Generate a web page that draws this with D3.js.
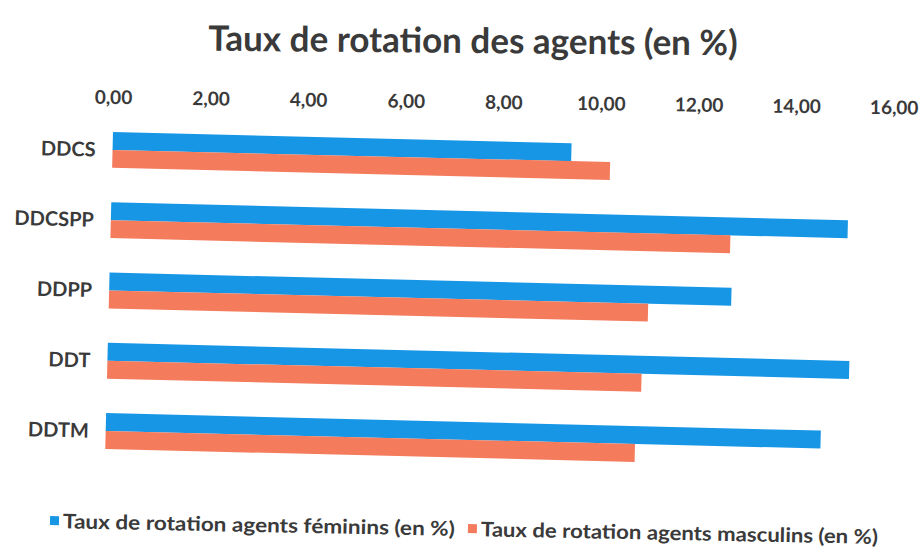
<!DOCTYPE html>
<html>
<head>
<meta charset="utf-8">
<script src="https://cdn.jsdelivr.net/npm/d3@7"></script>
<style>
  body { margin: 0; background: #fff; }
  text { font-family: Lato, 'Open Sans', sans-serif; fill: #3a3a3a; }
</style>
</head>
<body>
<div id="app"></div>
<script>
// data
const categories = ['DDCS', 'DDCSPP', 'DDPP', 'DDT', 'DDTM'];
const seriesNames = [
  'Taux de rotation agents féminins (en %)',
  'Taux de rotation agents masculins (en %)',
];
const feminins = [9.4, 15.1, 12.75, 15.2, 14.65];
const masculins = [10.2, 12.7, 11.05, 10.95, 10.85];
const tickValues = [0, 2, 4, 6, 8, 10, 12, 14, 16];
const colors = ['#1896e6', '#f47b5c'];

const data = categories.map((c, i) => ({
  category: c,
  values: [feminins[i], masculins[i]],
}));

// canvas
const width = 923;
const height = 549;
const origin = { x: 113, y: 132 };
// the source picture is a slightly skewed scan
const tilt = 1.4;

const svg = d3
  .select('#app')
  .append('svg')
  .attr('width', width)
  .attr('height', height);

svg.append('rect').attr('width', width).attr('height', height).attr('fill', 'white');

// scales
const xScale = d3.scaleLinear().domain([0, 16]).range([origin.x, origin.x + 16 * 48.8]);
const yScale = d3
  .scaleBand()
  .domain(categories)
  .range([origin.y, origin.y + 5 * 70.3 - 0.49 * 70.3])
  .paddingInner(0.49)
  .paddingOuter(0);
const seriesScale = d3
  .scaleBand()
  .domain([0, 1])
  .range([0, yScale.bandwidth()]);

// title
svg
  .append('text')
  .attr('x', 473)
  .attr('y', 53)
  .attr('text-anchor', 'middle')
  .attr('transform', 'rotate(0.5, 473, 42)')
  .style('font-size', '35px')
  .style('font-weight', 700)
  .text('Taux de rotation des agents (en %)');

// axis
const formatTick = (d) => d3.format('.2f')(d).replace('.', ',');
const xAxis = svg
  .append('g')
  .attr('transform', `rotate(0.75, ${origin.x}, 96) translate(0, 104)`)
  .call(d3.axisTop(xScale).tickValues(tickValues).tickFormat(formatTick).tickSize(0).tickPadding(0));
xAxis.select('.domain').remove();
xAxis
  .selectAll('text')
  .style('font-size', '19px')
  .style('font-weight', 700)
  .attr('fill', '#3a3a3a');

// bars
const plot = svg
  .append('g')
  .attr('transform', `rotate(${tilt}, ${origin.x}, ${origin.y})`);

const rows = plot
  .selectAll('.row')
  .data(data)
  .enter()
  .append('g')
  .attr('class', 'row')
  .attr('transform', (d) => `translate(0, ${yScale(d.category)})`);

rows
  .selectAll('rect')
  .data((d) => d.values)
  .enter()
  .append('rect')
  .attr('x', xScale(0))
  .attr('y', (_, i) => seriesScale(i))
  .attr('width', (d) => xScale(d) - xScale(0))
  .attr('height', seriesScale.bandwidth())
  .attr('fill', (_, i) => colors[i]);

rows
  .append('text')
  .attr('x', xScale(0) - 17)
  .attr('y', yScale.bandwidth() / 2)
  .attr('dy', '0.35em')
  .attr('text-anchor', 'end')
  .style('font-size', '20px')
  .style('font-weight', 700)
  .text((d) => d.category);

// legend
const legend = svg.append('g').attr('transform', 'rotate(1.1, 50, 521)');
const legendX = [50, 468];
const legendTextWidth = [392, 397];
const legendItems = legend
  .selectAll('.legend-item')
  .data(seriesNames)
  .enter()
  .append('g')
  .attr('class', 'legend-item')
  .attr('transform', (_, i) => `translate(${legendX[i]}, 521)`);

legendItems
  .append('rect')
  .attr('x', 0)
  .attr('y', -5)
  .attr('width', 9)
  .attr('height', 9)
  .attr('fill', (_, i) => colors[i]);

legendItems
  .append('text')
  .attr('x', 13)
  .attr('y', 0)
  .attr('dy', '0.35em')
  .attr('textLength', (_, i) => legendTextWidth[i])
  .attr('lengthAdjust', 'spacingAndGlyphs')
  .style('font-size', '20px')
  .style('font-weight', 700)
  .text((d) => d);
</script>
</body>
</html>
